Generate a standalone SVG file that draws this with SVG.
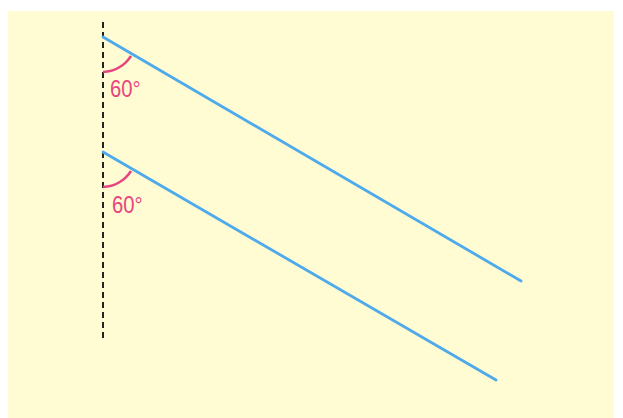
<svg xmlns="http://www.w3.org/2000/svg" width="623" height="418" viewBox="0 0 623 418">
<style>
.ray{stroke:#4eaaea;stroke-width:2.8;stroke-linecap:round;fill:none}
.arc{stroke:#e8457f;stroke-width:2.6;fill:none}
.lbl{font-family:"Liberation Sans",Arial,sans-serif;font-size:23px;fill:#e8457f}
</style>
<rect x="0" y="0" width="623" height="418" fill="#ffffff"/>
<rect x="8" y="11" width="606" height="407" fill="#fffbd2"/>
<g id="connectors">
<line x1="103" y1="22" x2="103" y2="340" stroke="#222" stroke-width="2" stroke-dasharray="6 4"/>
<line class="ray" x1="103" y1="37" x2="521" y2="281"/>
<line class="ray" x1="103" y1="152" x2="496" y2="380"/>
</g>
<g id="angle1">
<path class="arc" d="M103,72 A35,35 0 0 0 131,56"/>
<text class="lbl" transform="translate(110,97) scale(0.88,1)">60°</text>
</g>
<g id="angle2">
<path class="arc" d="M103,187 A35,35 0 0 0 131,171"/>
<text class="lbl" transform="translate(112,213) scale(0.88,1)">60°</text>
</g>
</svg>
